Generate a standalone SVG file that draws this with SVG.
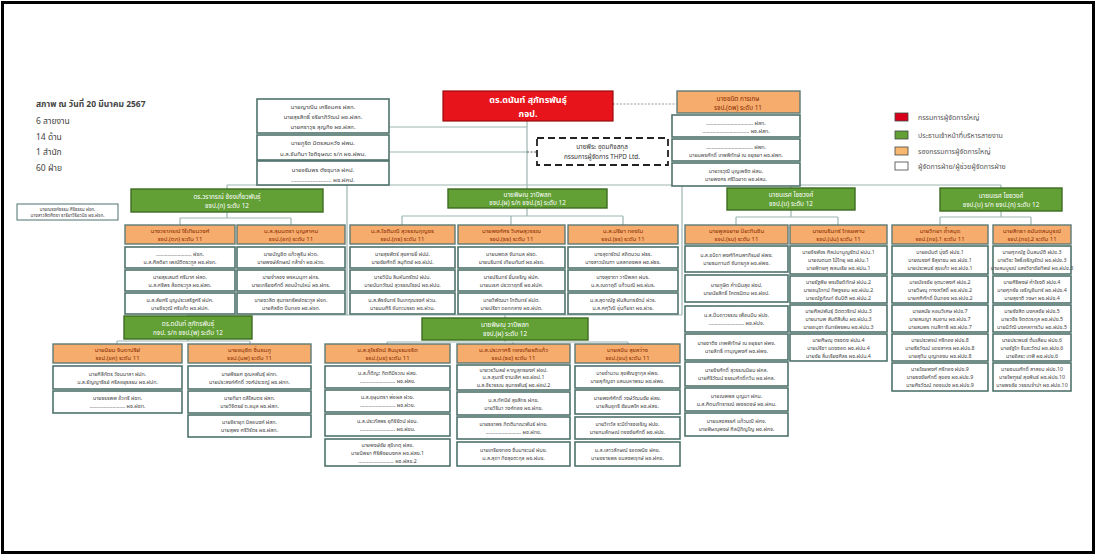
<svg xmlns="http://www.w3.org/2000/svg" width="1096" height="555" viewBox="0 0 1096 555">
<style>
text{font-family:"Noto Sans Thai","Tahoma","Noto Sans","DejaVu Sans",sans-serif;text-anchor:middle}
.wb{fill:#fff;stroke:#4f726c;stroke-width:1.6}
.ob{fill:#F5AC6C;stroke:#5e7a76;stroke-width:1.4}
.gb{fill:#62A035;stroke:#3d6b22;stroke-width:1.4}
.tw{font-size:5.3px;fill:#444}
.to{font-size:6px;fill:#8a2a00}
.tg{font-size:6.4px;fill:#fff}
.ln{stroke:#9db6b2;stroke-width:1.2;fill:none}
.lg{font-size:7px;fill:#555;text-anchor:start}
.st{font-size:8.5px;fill:#444;text-anchor:start}
</style>
<rect x="0" y="0" width="1096" height="555" fill="#fff"/>
<rect x="2.5" y="2.5" width="1091" height="550" fill="none" stroke="#000" stroke-width="3"/>

<g id="connectors">
<path class="ln" d="M389 127H527M389 152H527M527 121V189M227 185H1001M227 185V189M791 185V188M1001 185V188"/>
<path d="M527 152H537" stroke="#555" stroke-width="1" stroke-dasharray="2 1.5" fill="none"/>
<path d="M613 104H677" stroke="#999" stroke-width="1" stroke-dasharray="2 1.5" fill="none"/>
<path class="ln" d="M347 185V315M682 185V315M188 315H682M188 315V316M505 315V318"/>
<path class="ln" d="M227 212V218M180 218H291M180 218V225M291 218V225"/>
<path class="ln" d="M527 208V216M402 216H623M402 216V225M511 216V225M623 216V225"/>
<path class="ln" d="M791 210V217M736 217H838M736 217V225M838 217V225"/>
<path class="ln" d="M1001 211V217M940 217H1031M940 217V225M1031 217V225"/>
<path class="ln" d="M188 339V341M117 341H250M117 341V344M250 341V344"/>
<path class="ln" d="M505 340V342M387 342H628M387 342V344M513 342V344M628 342V344"/>
</g>

<g id="status">
<text class="st" x="36" y="107" style="font-weight:bold">สภาพ ณ วันที่ 20 มีนาคม 2567</text>
<text class="st" x="36" y="124">6  สายงาน</text>
<text class="st" x="36" y="140">14 ด้าน</text>
<text class="st" x="36" y="155">1  สำนัก</text>
<text class="st" x="36" y="171">60 ฝ่าย</text>
</g>

<g id="legend">
<rect x="895" y="113" width="13" height="8" fill="#d8001a" stroke="#444" stroke-width="0.8"/>
<text class="lg" x="918" y="120">กรรมการผู้จัดการใหญ่</text>
<rect x="895" y="131" width="13" height="8" fill="#62A035" stroke="#444" stroke-width="0.8"/>
<text class="lg" x="918" y="138">ประธานเจ้าหน้าที่บริหารสายงาน</text>
<rect x="895" y="147" width="13" height="8" fill="#F9B870" stroke="#444" stroke-width="0.8"/>
<text class="lg" x="918" y="154">รองกรรมการผู้จัดการใหญ่</text>
<rect x="895" y="162" width="13" height="8" fill="#fff" stroke="#444" stroke-width="0.8"/>
<text class="lg" x="918" y="169">ผู้จัดการฝ่าย/ผู้ช่วยผู้จัดการฝ่าย</text>
</g>

<g id="ceo">
<rect x="443" y="91" width="170" height="30" fill="#E8141B" stroke="#9a0a0a" stroke-width="1.2"/>
<text x="528" y="103" style="font-size:9px;font-weight:bold;fill:#fff">ดร.ดนันท์  สุภัทรพันธุ์</text>
<text x="528" y="117" style="font-size:9px;font-weight:bold;fill:#fff">กจป.</text>
</g>

<g id="advisors-left">
<rect class="wb" x="257" y="99" width="132" height="34"/>
<text class="tw" x="323" y="109" style="font-size:6px">นายญาณิน เครือนคร ฝสก.</text>
<text class="tw" x="323" y="119" style="font-size:6px">นายสุรสิทธิ์ จรียาภิวัฒน์ ผช.ฝสก.</text>
<text class="tw" x="323" y="129" style="font-size:6px">นายศราวุธ สุญกิจ ผช.ฝสก.</text>
<rect class="wb" x="257" y="135" width="132" height="25"/>
<text class="tw" x="323" y="145" style="font-size:6px">นายภูริต มิตรสมหวัง ฝพน.</text>
<text class="tw" x="323" y="156" style="font-size:6px">น.ส.จันทิมา ไชติชุษณะ ร/ก ผช.ฝพน.</text>
<rect class="wb" x="257" y="161" width="132" height="24"/>
<text class="tw" x="323" y="172" style="font-size:6px">นายจรัมพร ตังชุมาล ฝคป.</text>
<text class="tw" x="323" y="182" style="font-size:6px">......................... ผช.ฝคป.</text>
</g>

<g id="thpd">
<rect x="537" y="138" width="131" height="27" fill="#fff" stroke="#222" stroke-width="1.8" stroke-dasharray="7 4"/>
<text x="602" y="149" style="font-size:6.4px;fill:#333">นายพีระ อุดมกิจสกุล</text>
<text x="602" y="159" style="font-size:6.4px;fill:#333">กรรมการผู้จัดการ THPD Ltd.</text>
</g>

<g id="vp-top">
<rect class="ob" x="677" y="91" width="123" height="22"/>
<text class="to" x="738" y="101" style="font-size:6.4px">นายชนิต การเกษ</text>
<text class="to" x="738" y="110" style="font-size:6.4px">รจป.(ดพ) ระดับ 11</text>
<rect class="wb" x="672" y="115" width="128" height="22"/>
<text class="tw" x="736" y="124.5">................................. ฝสท.</text>
<text class="tw" x="736" y="133">................................. ผช.ฝสท.</text>
<rect class="wb" x="672" y="139" width="128" height="22"/>
<text class="tw" x="736" y="148.5">................................. ฝพท.</text>
<text class="tw" x="736" y="157">นายนพรศักดิ์ เทพพิทักษ์ ณ อยุธยา ผช.ฝพท.</text>
<rect class="wb" x="672" y="163" width="128" height="23"/>
<text class="tw" x="736" y="172.5">นายวรวุฒิ บุญเพชิต ฝสบ.</text>
<text class="tw" x="736" y="181">นายพงศร ศรีไฉยาด ผช.ฝสบ.</text>
</g>

<g id="side-box">
<rect class="wb" x="17" y="204" width="101" height="16" style="stroke-width:1"/>
<text class="tw" x="67.5" y="210.5" style="font-size:4.6px">นายณรงค์ธรรม ศิริธรรม ฝจก.</text>
<text class="tw" x="67.5" y="217" style="font-size:4.6px">นางสาวสิตศิตรา ธาริยาวิริยวนิช ผช.ฝจก.</text>
</g>

<g id="g1">
<rect class="gb" x="131" y="189" width="192" height="23"/>
<text class="tg" x="227" y="198.5">ดร.วรากรณ์ ช้องเกี้ยวพันธุ์</text>
<text class="tg" x="227" y="207.5">ชจป.(ภ) ระดับ 12</text>
</g>
<g id="o1">
<rect class="ob" x="125" y="225" width="110" height="19"/>
<text class="to" x="180" y="232.5">นางวราภรณ์ ไร้เทียมวงศ์</text>
<text class="to" x="180" y="240.5">รจป.(ตภ) ระดับ 11</text>
<rect class="wb" x="125" y="247" width="110" height="21"/>
<text class="tw" x="180" y="255.5">......................... ฝจภ.</text>
<text class="tw" x="180" y="263.5">น.ส.ศิลติยา เพณัติตระกูล ผช.ฝจภ.</text>
<rect class="wb" x="125" y="270" width="110" height="21"/>
<text class="tw" x="180" y="278.5">นายสุรเสนต์ ศรีมาศ ฝสด.</text>
<text class="tw" x="180" y="286.5">น.ส.ศรีพร ล้อตระกูล ผช.ฝสด.</text>
<rect class="wb" x="125" y="293" width="110" height="21"/>
<text class="tw" x="180" y="301.5">น.ส.ลัยศรี บุญประเสริฐศรี ฝปค.</text>
<text class="tw" x="180" y="309.5">นายจิรวุฒิ ศรีแก้ว ผช.ฝปค.</text>
</g>
<g id="o2">
<rect class="ob" x="237" y="225" width="108" height="19"/>
<text class="to" x="291" y="232.5">น.ส.สุมนตรา บุญสาคม</text>
<text class="to" x="291" y="240.5">รจป.(อภ) ระดับ 11</text>
<rect class="wb" x="237" y="247" width="108" height="21"/>
<text class="tw" x="291" y="255.5">นายบัญชิต แก้วพูริน ฝวด.</text>
<text class="tw" x="291" y="263.5">นายพงษ์ลักษณ์ กล้าจำ ผช.ฝวด.</text>
<rect class="wb" x="237" y="270" width="108" height="21"/>
<text class="tw" x="291" y="278.5">นายจำลอง พรหมนุภา ฝกร.</text>
<text class="tw" x="291" y="286.5">นายเกรียงศักดิ์ สอนบ้านใหม่ ผช.ฝกร.</text>
<rect class="wb" x="237" y="293" width="108" height="21"/>
<text class="tw" x="291" y="301.5">นายชวลิต สุนทรทรัพย์ตระกูล ฝจก.</text>
<text class="tw" x="291" y="309.5">นายศิลชิต ปีนทอง ผช.ฝจก.</text>
</g>

<g id="g2">
<rect class="gb" x="448" y="189" width="159" height="19"/>
<text class="tg" x="527.5" y="197">นายพิษณุ วาปีพลก</text>
<text class="tg" x="527.5" y="205">ชจป.(ผ) ร/ก ชจป.(ธ) ระดับ 12</text>
</g>
<g id="o5">
<rect class="ob" x="350" y="225" width="105" height="19"/>
<text class="to" x="402.5" y="232.5">น.ส.โชติมณี สุวรรณกุญชร</text>
<text class="to" x="402.5" y="240.5">รจป.(ถธ) ระดับ 11</text>
<rect class="wb" x="350" y="247" width="105" height="21"/>
<text class="tw" x="402.5" y="255.5">นายสุรพัตร์ สุขสาขยิ์ ฝปป.</text>
<text class="tw" x="402.5" y="263.5">นายชัยศักดิ์ สมุทิตย์ ผช.ฝปป.</text>
<rect class="wb" x="350" y="270" width="105" height="21"/>
<text class="tw" x="402.5" y="278.5">นายวิปัน ลิมหันตรัตน์ ฝปบ.</text>
<text class="tw" x="402.5" y="286.5">นายนันทวัฒน์ สุวรรณโรจน์ ผช.ฝปบ.</text>
<rect class="wb" x="350" y="293" width="105" height="21"/>
<text class="tw" x="402.5" y="301.5">น.ส.พิรจันทร์ จินเกตุณรงค์ ฝวน.</text>
<text class="tw" x="402.5" y="309.5">นายมนศิริ จันทะบรรด ผช.ฝวน.</text>
</g>
<g id="o6">
<rect class="ob" x="458" y="225" width="107" height="19"/>
<text class="to" x="511.5" y="232.5">นายพงศ์ศร วิเศษสุวรรณ</text>
<text class="to" x="511.5" y="240.5">รจป.(ธธ) ระดับ 11</text>
<rect class="wb" x="458" y="247" width="107" height="21"/>
<text class="tw" x="511.5" y="255.5">นายนพดล จันทมล ฝรด.</text>
<text class="tw" x="511.5" y="263.5">นายนรินทร์ เทียนทันต์ ผช.ฝรด.</text>
<rect class="wb" x="458" y="270" width="107" height="21"/>
<text class="tw" x="511.5" y="278.5">นายปรินทร์ ยิ้มเจริญ ฝปค.</text>
<text class="tw" x="511.5" y="286.5">นายนเรศ ประดาฤทธิ์ ผช.ฝปค.</text>
<rect class="wb" x="458" y="293" width="107" height="21"/>
<text class="tw" x="511.5" y="301.5">นายวิพัฒนา โกติบทร์ ฝปต.</text>
<text class="tw" x="511.5" y="309.5">นายปรีชา ดอกกลาง ผช.ฝปต.</text>
</g>
<g id="o7">
<rect class="ob" x="568" y="225" width="110" height="19"/>
<text class="to" x="623" y="232.5">น.ส.ปรียา ทองใบ</text>
<text class="to" x="623" y="240.5">รจป.(ธร) ระดับ 11</text>
<rect class="wb" x="568" y="247" width="110" height="21"/>
<text class="tw" x="623" y="255.5">นางสุดารัตน์ สถิตนวน ฝธร.</text>
<text class="tw" x="623" y="263.5">นางสาวบัณฑา นลสทองพล ผช.ฝธร.</text>
<rect class="wb" x="568" y="270" width="110" height="21"/>
<text class="tw" x="623" y="278.5">นางสุชาดา วาปีพลก ฝบร.</text>
<text class="tw" x="623" y="286.5">น.ส.ณดาฤดี แก้วมณี ผช.ฝบร.</text>
<rect class="wb" x="568" y="293" width="110" height="21"/>
<text class="tw" x="623" y="301.5">น.ส.สุดาณัฐ ผันสินทรรัตน์ ฝวร.</text>
<text class="tw" x="623" y="309.5">น.ส.ศศุวีณี อุ่นทียรา ผช.ฝวร.</text>
</g>

<g id="g3">
<rect class="gb" x="727" y="188" width="128" height="22"/>
<text class="tg" x="791" y="197">นายนเรศ ไชยวงศ์</text>
<text class="tg" x="791" y="206">ชจป.(บ) ระดับ 12</text>
</g>
<g id="o8">
<rect class="ob" x="685" y="225" width="103" height="19"/>
<text class="to" x="736.5" y="232.5">นายพูลขยาย ปิยะทินชิน</text>
<text class="to" x="736.5" y="240.5">รจป.(รบ) ระดับ 11</text>
<rect class="wb" x="685" y="246" width="103" height="26"/>
<text class="tw" x="736.5" y="257">น.ส.ชนิดา พงศ์ทิศนพาภิรมย์ ฝพช.</text>
<text class="tw" x="736.5" y="265">นายธนกานต์ จันทรกูล ผช.ฝพช.</text>
<rect class="wb" x="685" y="275" width="103" height="27"/>
<text class="tw" x="736.5" y="286.5">นายภูษิต คำเนินสุข ฝชป.</text>
<text class="tw" x="736.5" y="294.5">นายนัยสิทธิ์ โคตรนิตม ผช.ฝชป.</text>
<rect class="wb" x="685" y="306" width="103" height="26"/>
<text class="tw" x="736.5" y="317">น.ส.ปิ่นดาวรรณ เพื่อนมีน ฝปจ.</text>
<text class="tw" x="736.5" y="325">......................... ผช.ฝปจ.</text>
<rect class="wb" x="685" y="334" width="103" height="26"/>
<text class="tw" x="736.5" y="345">นายชาติช เทพพิทักษ์ ณ อยุธยา ฝพจ.</text>
<text class="tw" x="736.5" y="353">นายสิทธิ์ ทาบุญพงศ์ ผช.ฝพจ.</text>
<rect class="wb" x="685" y="362" width="103" height="24"/>
<text class="tw" x="736.5" y="372">นายจิรศักดิ์ สุวรรณนิยม ฝคล.</text>
<text class="tw" x="736.5" y="380">นายศิริวัฒน์ ธรรมศักดิ์กวิน ผช.ฝคล.</text>
<rect class="wb" x="685" y="388" width="103" height="23"/>
<text class="tw" x="736.5" y="397.5">นายณพพล บุญมา ฝคม.</text>
<text class="tw" x="736.5" y="405.5">น.ส.ศิตนภัทรารณ์ เพชรดงษ์ ผช.ฝคม.</text>
<rect class="wb" x="685" y="413" width="103" height="23"/>
<text class="tw" x="736.5" y="422.5">นายแสงสรรค์ แก้วมณี ฝคจ.</text>
<text class="tw" x="736.5" y="430.5">นายพิษณุพงษ์ ศิลปุ์ภิญโญ ผช.ฝคจ.</text>
</g>
<g id="o9">
<rect class="ob" x="790" y="225" width="97" height="19"/>
<text class="to" x="838.5" y="232.5">นายณรินทร์ ไทรยพาน</text>
<text class="to" x="838.5" y="240.5">รจป.(ปน) ระดับ 11</text>
<rect class="wb" x="790" y="246" width="97" height="28"/>
<text class="tw" x="838.5" y="254">นายจิรพัชร ศิลปมานูญรัตน์ ฝปน.1</text>
<text class="tw" x="838.5" y="262">นายณตนต ไม้ไทยุ ผช.ฝปน.1</text>
<text class="tw" x="838.5" y="270">นายพิทยศุ พลนเรีย ผช.ฝปน.1</text>
<rect class="wb" x="790" y="276" width="97" height="27"/>
<text class="tw" x="838.5" y="283.5">นายรัฐพีย พรเชียดิทักษ์ ฝปน.2</text>
<text class="tw" x="838.5" y="291.5">นายอนุไภทน์ ทิพฐรอน ผช.ฝปน.2</text>
<text class="tw" x="838.5" y="299.5">นายณัฐภัณท์ ชันปิติ ผช.ฝปน.2</text>
<rect class="wb" x="790" y="305" width="97" height="27"/>
<text class="tw" x="838.5" y="312.5">นายศิลปพันธุ์ ฉิตตวริทน์ ฝปน.3</text>
<text class="tw" x="838.5" y="320.5">นายมานพ สันติสีเส้น ผช.ฝปน.3</text>
<text class="tw" x="838.5" y="328.5">นายอนุชา จันทร์พรพน ผช.ฝปน.3</text>
<rect class="wb" x="790" y="334" width="97" height="27"/>
<text class="tw" x="838.5" y="341.5">นายศิษณุ ตรงดง ฝปน.4</text>
<text class="tw" x="838.5" y="349.5">นายปรีชา แดงซอด ผช.ฝปน.4</text>
<text class="tw" x="838.5" y="357.5">นายชัย ลิ้มเรียงศิลร ผช.ฝปน.4</text>
</g>

<g id="g4">
<rect class="gb" x="940" y="188" width="122" height="23"/>
<text class="tg" x="1001" y="197.5">นายนเรศ ไชยวงศ์</text>
<text class="tg" x="1001" y="206.5">ชจป.(บ) ร/ก ชจป.(ภ) ระดับ 12</text>
</g>
<g id="o10">
<rect class="ob" x="892" y="225" width="96" height="19"/>
<text class="to" x="940" y="232.5">นายวิทยา ถ้ำสมุด</text>
<text class="to" x="940" y="240.5">รจป.(ภข).1 ระดับ 11</text>
<rect class="wb" x="892" y="246" width="96" height="28"/>
<text class="tw" x="940" y="254">นายอนันต์ บุ่งดี ฝปข.1</text>
<text class="tw" x="940" y="262">นายณรงค์ ธีสุราชน ผช.ฝปข.1</text>
<text class="tw" x="940" y="270">นายประพนธ์ สุขแก้ว ผช.ฝปข.1</text>
<rect class="wb" x="892" y="276" width="96" height="27"/>
<text class="tw" x="940" y="283.5">นายนัจรชัย อุตมะพงศ์ ฝปข.2</text>
<text class="tw" x="940" y="291.5">นายวิษณุ ทางสวัสดิ์ ผช.ฝปข.2</text>
<text class="tw" x="940" y="299.5">นายศศิศักดิ์ ปิ่นทอง ผช.ฝปข.2</text>
<rect class="wb" x="892" y="305" width="96" height="27"/>
<text class="tw" x="940" y="312.5">นายสมัย หอมวิเศษ ฝปข.7</text>
<text class="tw" x="940" y="320.5">นายสมญา สมอาน ผช.ฝปข.7</text>
<text class="tw" x="940" y="328.5">นายสมพร ทนสีทาธิ ผช.ฝปข.7</text>
<rect class="wb" x="892" y="334" width="96" height="27"/>
<text class="tw" x="940" y="341.5">นายประพจน์ ศรีทอง ฝปข.8</text>
<text class="tw" x="940" y="349.5">นายธีรวัฒน์ แดงสาคร ผช.ฝปข.8</text>
<text class="tw" x="940" y="357.5">นายสุทีน บุญทองม ผช.ฝปข.8</text>
<rect class="wb" x="892" y="363" width="96" height="28"/>
<text class="tw" x="940" y="371">นายไชยพงศ์ ศรีทอง ฝปข.9</text>
<text class="tw" x="940" y="379">นายธงชัยศักดิ์ สุของ ผช.ฝปข.9</text>
<text class="tw" x="940" y="387">นายศิรวัฒน์ กองแปง ผช.ฝปข.9</text>
</g>
<g id="o11">
<rect class="ob" x="993" y="225" width="78" height="19"/>
<text class="to" x="1032" y="232.5">นายสิทธา อนันตสมบูรณ์</text>
<text class="to" x="1032" y="240.5">รจป.(ภข).2 ระดับ 11</text>
<rect class="wb" x="993" y="246" width="78" height="28"/>
<text class="tw" x="1032" y="254">นายศุภณัฐ ปั้นสมบัติ ฝปข.3</text>
<text class="tw" x="1032" y="262">นายวิระ โพธิ์เจริญรัตน์ ผช.ฝปข.3</text>
<text class="tw" x="1032" y="270">นายสมบูรณ์ แสงวิชาชัยทิพย์ ผช.ฝปข.3</text>
<rect class="wb" x="993" y="276" width="78" height="27"/>
<text class="tw" x="1032" y="283.5">นายศิริพงษ์ คำโรงดี ฝปข.4</text>
<text class="tw" x="1032" y="291.5">นายศุภชัย เจริญอินทร์ ผช.ฝปข.4</text>
<text class="tw" x="1032" y="299.5">นายสุชาติ วงษา ผช.ฝปข.4</text>
<rect class="wb" x="993" y="305" width="78" height="27"/>
<text class="tw" x="1032" y="312.5">นายรังสิต มงคลชัย ฝปข.5</text>
<text class="tw" x="1032" y="320.5">นายวชิร จิตตวรกุล ผช.ฝปข.5</text>
<text class="tw" x="1032" y="328.5">นายนิวัฒิ มงคลการวิม ผช.ฝปข.5</text>
<rect class="wb" x="993" y="334" width="78" height="27"/>
<text class="tw" x="1032" y="341.5">นายประพนธ์ ต้นเสี่ยน ฝปข.6</text>
<text class="tw" x="1032" y="349.5">นายรัฐไท รื่นระวัตน์ ผช.ฝปข.6</text>
<text class="tw" x="1032" y="357.5">นายอิสระ เทพี ผช.ฝปข.6</text>
<rect class="wb" x="993" y="363" width="78" height="28"/>
<text class="tw" x="1032" y="371">นายชนนศักดิ์ สาสอน ฝปข.10</text>
<text class="tw" x="1032" y="379">นายไพฑูรย์ สุขพินธ์ ผช.ฝปข.10</text>
<text class="tw" x="1032" y="387">นายพรชัย วรรณจำปา ผช.ฝปข.10</text>
</g>

<g id="g5">
<rect class="gb" x="124" y="316" width="128" height="23"/>
<text class="tg" x="188" y="325.5">ดร.ดนันท์  สุภัทรพันธุ์</text>
<text class="tg" x="188" y="334.5">กจป. ร/ก ชจป.(พ) ระดับ 12</text>
</g>
<g id="o3">
<rect class="ob" x="53" y="344" width="129" height="19"/>
<text class="to" x="117.5" y="351.5">นายนิยม จินดาปรีย์</text>
<text class="to" x="117.5" y="359.5">รจป.(ขค) ระดับ 11</text>
<rect class="wb" x="53" y="366" width="129" height="23"/>
<text class="tw" x="117.5" y="375.5">นายศิลีกัตร วัชนมาลา ฝปท.</text>
<text class="tw" x="117.5" y="383.5">น.ส.ธัญญาธิรย์ ศรีลอยุธรรม ผช.ฝปท.</text>
<rect class="wb" x="53" y="391" width="129" height="22"/>
<text class="tw" x="117.5" y="400">นายธรรพพ อ้วทรี ฝชท.</text>
<text class="tw" x="117.5" y="408">......................... ผช.ฝชท.</text>
</g>
<g id="o4">
<rect class="ob" x="188" y="344" width="123" height="19"/>
<text class="to" x="249.5" y="351.5">นายอนุชิต ชื่นชมภู</text>
<text class="to" x="249.5" y="359.5">รจป.(นพ) ระดับ 11</text>
<rect class="wb" x="188" y="366" width="123" height="23"/>
<text class="tw" x="249.5" y="375.5">นายพีรยศ ชุณหพันธุ์ ฝกท.</text>
<text class="tw" x="249.5" y="383.5">นายประสงค์ศักดิ์ วงศ์ประชญ์ ผช.ฝกท.</text>
<rect class="wb" x="188" y="391" width="123" height="22"/>
<text class="tw" x="249.5" y="400">นายทิยา ดลีโสมตร ฝสท.</text>
<text class="tw" x="249.5" y="408">นายวิจิตรย์ ด.อบุล ผช.ฝสท.</text>
<rect class="wb" x="188" y="415" width="123" height="22"/>
<text class="tw" x="249.5" y="424">นายจิรายุท นิลอนงค์ ฝสท.</text>
<text class="tw" x="249.5" y="432">นายสุพจ ศรีวิรัตร ผช.ฝสท.</text>
</g>

<g id="g6">
<rect class="gb" x="422" y="318" width="166" height="22"/>
<text class="tg" x="505" y="327">นายพิษณุ วาปีพลก</text>
<text class="tg" x="505" y="336">ชจป.(ผ) ระดับ 12</text>
</g>
<g id="o12">
<rect class="ob" x="325" y="344" width="125" height="19"/>
<text class="to" x="387.5" y="351.5">น.ส.จุไรรัตน์ สินบุรรมจริต</text>
<text class="to" x="387.5" y="359.5">รจป.(บข) ระดับ 11</text>
<rect class="wb" x="325" y="366" width="125" height="22"/>
<text class="tw" x="387.5" y="375">น.ส.ก็ติญะ กิตติมีรวณ ฝสข.</text>
<text class="tw" x="387.5" y="383">......................... ผช.ฝสข.</text>
<rect class="wb" x="325" y="390" width="125" height="22"/>
<text class="tw" x="387.5" y="399">น.ส.อุษุมตรา พ่อผล ฝวข.</text>
<text class="tw" x="387.5" y="407">......................... ผช.ฝวข.</text>
<rect class="wb" x="325" y="414" width="125" height="22"/>
<text class="tw" x="387.5" y="423">น.ส.ประภัสพร อุทิริรัตน์ ฝขบ.</text>
<text class="tw" x="387.5" y="431">......................... ผช.ฝขบ.</text>
<rect class="wb" x="325" y="439" width="125" height="27"/>
<text class="tw" x="387.5" y="446.5">นายพงษ์ชัย สุขิเกตุ ฝสข.</text>
<text class="tw" x="387.5" y="454.5">นายนิพยา ศิริพิชยมงคล ผช.ฝสข.1</text>
<text class="tw" x="387.5" y="462.5">......................... ผช.ฝสข.2</text>
</g>
<g id="o13">
<rect class="ob" x="457" y="344" width="113" height="19"/>
<text class="to" x="513.5" y="351.5">น.ส.ประภาศรี ทองเกียรติแก้ว</text>
<text class="to" x="513.5" y="359.5">รจป.(ธข) ระดับ 11</text>
<rect class="wb" x="457" y="365" width="113" height="25"/>
<text class="tw" x="513.5" y="371.5">นายวรวิมลย์ หาญสุทธยงค์ ฝอป.</text>
<text class="tw" x="513.5" y="379">น.ส.สุนทรี งามเลิศ ผช.ฝอป.1</text>
<text class="tw" x="513.5" y="386.5">น.ส.จิรวรรณ สุนทรพันธุ์ ผช.ฝอป.2</text>
<rect class="wb" x="457" y="392" width="113" height="23"/>
<text class="tw" x="513.5" y="401.5">น.ส.ทัศนีย์ สุขสีทร ฝกข.</text>
<text class="tw" x="513.5" y="409.5">นายวิรีนา วงศ์ทอง ผช.ฝกข.</text>
<rect class="wb" x="457" y="417" width="113" height="22"/>
<text class="tw" x="513.5" y="426">นายธราพร กิตติมาณะพันธ์ ฝทข.</text>
<text class="tw" x="513.5" y="434">......................... ผช.ฝทข.</text>
<rect class="wb" x="457" y="442" width="113" height="24"/>
<text class="tw" x="513.5" y="452">นายเกรียงทอง ชื่นมาระนย์ ฝบข.</text>
<text class="tw" x="513.5" y="460">น.ส.สุดา ทิชสุขตะกุล ผช.ฝบข.</text>
</g>
<g id="o14">
<rect class="ob" x="575" y="344" width="105" height="19"/>
<text class="to" x="627.5" y="351.5">นายสมิน สุขสว่าง</text>
<text class="to" x="627.5" y="359.5">รจป.(ขบ) ระดับ 11</text>
<rect class="wb" x="575" y="366" width="105" height="22"/>
<text class="tw" x="627.5" y="375">นายจำนวน สุขพิณฐากุล ฝพข.</text>
<text class="tw" x="627.5" y="383">นายสุกัญชา แสนมหาพรม ผช.ฝพข.</text>
<rect class="wb" x="575" y="390" width="105" height="24"/>
<text class="tw" x="627.5" y="400">นายพงศ์ศักดิ์ วงษ์วัฒนชัย ฝสข.</text>
<text class="tw" x="627.5" y="408">นายสินอุทรี ชัยนพโค ผช.ฝสข.</text>
<rect class="wb" x="575" y="417" width="105" height="22"/>
<text class="tw" x="627.5" y="426">นายวิทวัส ระมีดำรงเจริญ ฝปข.</text>
<text class="tw" x="627.5" y="434">นายกมลักษณ์ ทรงชัยศักดิ์ ผช.ฝปข.</text>
<rect class="wb" x="575" y="442" width="105" height="24"/>
<text class="tw" x="627.5" y="452">น.ส.เสาวลักษณ์ รอดพนิช ฝคข.</text>
<text class="tw" x="627.5" y="460">นายชราธพล ขมสงพฤกษ์ ผช.ฝคข.</text>
</g>
</svg>
